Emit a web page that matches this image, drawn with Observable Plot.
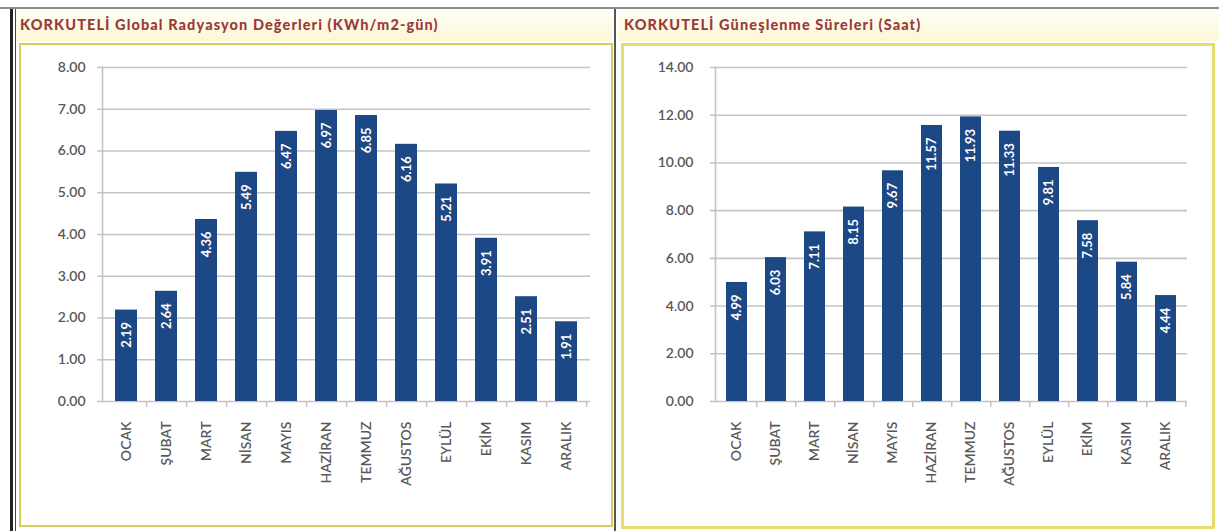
<!DOCTYPE html>
<html>
<head>
<meta charset="utf-8">
<script src="https://cdn.jsdelivr.net/npm/d3@7"></script>
<script src="https://cdn.jsdelivr.net/npm/@observablehq/plot@0.6"></script>
<style>
  html, body { margin: 0; padding: 0; background: #fff; width: 1219px; height: 531px; overflow: hidden; }
  .abs { position: absolute; }
  .title { font-family: Lato, sans-serif; font-weight: 900; font-size: 14.5px; color: #9a3b3b; letter-spacing: 1.1px; }
  .band { background: linear-gradient(to bottom, #fffef5, #fdf7d6); }
  .box { box-sizing: border-box; background: #fff; }
</style>
</head>
<body>
<div class="abs" style="left:0;top:7px;width:1219px;height:2px;background:#8a8a8a"></div>
<div class="abs" style="left:10px;top:9px;width:3px;height:522px;background:#222"></div>
<div class="abs" style="left:15px;top:9px;width:1px;height:522px;background:#444"></div>
<div class="abs band" style="left:16px;top:11px;width:596px;height:30px"></div>
<div class="abs band" style="left:618px;top:11px;width:601px;height:30px"></div>
<div class="abs title" style="left:20px;top:16px">KORKUTELİ Global Radyasyon Değerleri (KWh/m2-gün)</div>
<div class="abs title" style="left:624px;top:16px">KORKUTELİ Güneşlenme Süreleri (Saat)</div>
<div class="abs" style="left:614px;top:9px;width:2px;height:522px;background:#555"></div>
<div class="abs box" style="left:19px;top:43px;width:594px;height:484px;border:2px solid #d4cc5c"></div>
<div class="abs box" style="left:621px;top:43px;width:594px;height:486px;border:3px solid #e6de6c"></div>
<div id="left" class="abs" style="left:22px;top:45px"></div>
<div id="right" class="abs" style="left:625px;top:46px"></div>
<script>
const months = ["OCAK", "ŞUBAT", "MART", "NİSAN", "MAYIS", "HAZİRAN", "TEMMUZ", "AĞUSTOS", "EYLÜL", "EKİM", "KASIM", "ARALIK"];
const radiation = [2.19, 2.64, 4.36, 5.49, 6.47, 6.97, 6.85, 6.16, 5.21, 3.91, 2.51, 1.91];
const sunshine = [4.99, 6.03, 7.11, 8.15, 9.67, 11.57, 11.93, 11.33, 9.81, 7.58, 5.84, 4.44];
const radiationTicks = [0, 1, 2, 3, 4, 5, 6, 7, 8];
const sunshineTicks = [0, 2, 4, 6, 8, 10, 12, 14];

const font = "Lato, 'Open Sans', sans-serif";
const barColor = "#1d4886";
const gridColor = "#c4c4c4";

function chart({values, ticks, yMax, width, height, ml, mr, mt, mb, po, tickPad, tickExt}) {
  const data = months.map((m, i) => ({month: m, value: values[i]}));
  const n = months.length;
  const pi = 0.45;
  const step = (width - ml - mr) / (n - pi + 2 * po);
  const tickDown = 6 * yMax / (height - mt - mb);
  return Plot.plot({
    width, height,
    marginLeft: ml, marginRight: mr, marginTop: mt, marginBottom: mb,
    style: {fontFamily: font, background: "transparent", color: "#595959", overflow: "visible"},
    x: {domain: months, paddingInner: pi, paddingOuter: po, axis: null},
    y: {domain: [0, yMax], axis: null},
    marks: [
      Plot.ruleY(ticks, {y: d => d, stroke: gridColor, strokeWidth: 1.6, insetLeft: -tickExt}),
      Plot.ruleX(months, {x: d => d, dx: step / 2, y1: 0, y2: -tickDown, stroke: gridColor, strokeWidth: 1.5}),
      Plot.barY(data, {x: "month", y: "value", fill: barColor}),
      Plot.frame({anchor: "left", stroke: gridColor, strokeWidth: 1.6}),
      Plot.axisY(ticks, {tickSize: 0, tickPadding: tickPad, tickFormat: d => d.toFixed(2), fontSize: 14, fontWeight: 600, label: null}),
      Plot.text(data, {
        x: "month", y: "value", text: d => d.value.toFixed(2),
        rotate: -90, textAnchor: "end", dy: 12,
        fill: "white", fontSize: 13, fontWeight: "bold"
      }),
      Plot.text(months, {
        x: d => d, y: 0, text: d => d,
        rotate: -90, textAnchor: "end", dy: 20,
        fill: "#595959", fontSize: 14, fontWeight: 600
      })
    ]
  });
}

document.getElementById("left").append(chart({
  values: radiation, ticks: radiationTicks, yMax: 8,
  width: 588, height: 476, ml: 80, mr: 20, mt: 22, mb: 120, po: 0.3, tickPad: 17, tickExt: 5
}));
document.getElementById("right").append(chart({
  values: sunshine, ticks: sunshineTicks, yMax: 14,
  width: 586, height: 478, ml: 90, mr: 24, mt: 21, mb: 123, po: 0.2, tickPad: 22, tickExt: 5
}));
</script>
</body>
</html>
